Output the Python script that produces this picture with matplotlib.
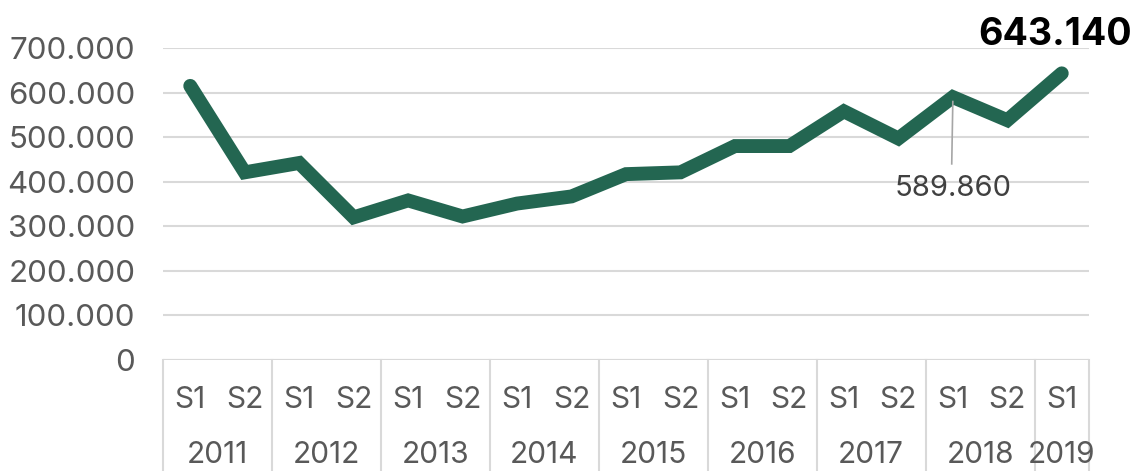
import matplotlib
matplotlib.use("Agg")
import matplotlib.pyplot as plt
import matplotlib.transforms as mtransforms
from matplotlib.ticker import FuncFormatter

plt.rcParams['font.family'] = ['Inter', 'DejaVu Sans']

years = ["2011", "2012", "2013", "2014", "2015", "2016", "2017", "2018", "2019"]
semesters = ["S1", "S2"] * 8 + ["S1"]
values = [615000, 421000, 442000, 320000, 358000, 322000, 351000, 367000,
          417000, 421000, 480000, 480000, 558000, 497000, 589860, 538000, 643140]
yticks = [0, 100000, 200000, 300000, 400000, 500000, 600000, 700000]

line_color = "#236651"
grid_color = "#d9d9d9"
text_color = "#595959"

fig = plt.figure(figsize=(11.37, 4.71), dpi=100)
ax = fig.add_axes([163/1137, 1 - 360/471, (1089-163)/1137, (360-48)/471])

x = list(range(len(values)))
ax.plot(x, values, color=line_color, lw=10, solid_capstyle='round',
        solid_joinstyle='miter', clip_on=False, zorder=3)

ax.set_xlim(-0.5, len(values) - 0.5)
ax.set_ylim(0, 700000)
ax.set_yticks(yticks)
ax.yaxis.set_major_formatter(FuncFormatter(lambda v, p: f"{int(v):,}".replace(",", ".")))
ax.tick_params(axis='y', length=0, pad=20, labelsize=22.5, labelcolor=text_color)
ax.set_xticks([])
for s in ax.spines.values():
    s.set_visible(False)
ax.grid(axis='y', color=grid_color, lw=1.5)
ax.set_axisbelow(True)
ax.axhline(0, color=grid_color, lw=1.5, zorder=1)

trans = mtransforms.blended_transform_factory(ax.transData, ax.transAxes)
# separators
bounds = [-0.5] + [1.5 + 2*i for i in range(8)] + [len(values) - 0.5]
for b in bounds:
    ax.plot([b, b], [0, -0.36], color=grid_color, lw=1.5, transform=trans, clip_on=False)

for i, s in enumerate(semesters):
    ax.text(i, -0.128, s, transform=trans, ha='center', va='center',
            fontsize=21.5, color=text_color)
for j, yr in enumerate(years):
    xc = 2*j + 0.5 if j < 8 else 16
    ax.text(xc, -0.305, yr, transform=trans, ha='center', va='center',
            fontsize=21.5, color=text_color)

# annotations
ax.text(15.88, 706000, "643.140", ha='center', va='baseline',
        fontsize=27, fontweight='bold', color='black')
ax.plot([14, 14 - 0.02], [589860 - 10000, 440000], color='#a6a6a6', lw=1.2, zorder=4)
ax.text(14, 385000, "589.860", ha='center', va='center', fontsize=21, color='#404040')

fig.savefig("out.png", dpi=100)
